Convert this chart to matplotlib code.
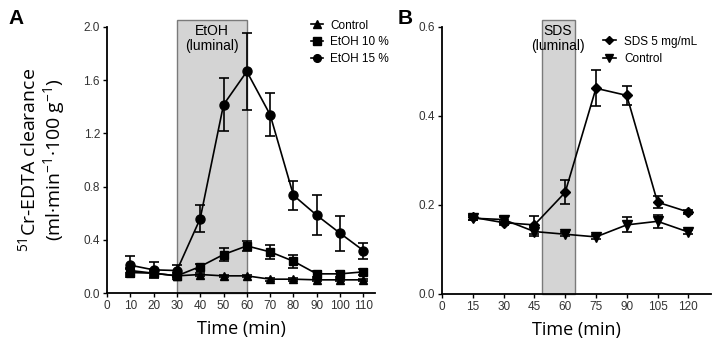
import matplotlib.pyplot as plt
import numpy as np

plt.rcParams["font.family"] = ["Liberation Sans", "DejaVu Sans"]
plt.rcParams["mathtext.fontset"] = "custom"
plt.rcParams["mathtext.rm"] = "Open Sans"
plt.rcParams["mathtext.it"] = "Open Sans:italic"

# Panel A data
time_a = [10, 20, 30, 40, 50, 60, 70, 80, 90, 100, 110]
control_a = [0.17, 0.15, 0.13, 0.14, 0.13, 0.13, 0.105, 0.105, 0.10, 0.10, 0.10]
control_a_err = [0.02, 0.015, 0.01, 0.01, 0.01, 0.01, 0.01, 0.01, 0.01, 0.01, 0.01]
etoh10 = [0.155, 0.15, 0.13, 0.20, 0.29, 0.355, 0.31, 0.24, 0.145, 0.145, 0.16]
etoh10_err = [0.03, 0.03, 0.02, 0.02, 0.05, 0.04, 0.05, 0.05, 0.02, 0.02, 0.02]
etoh15 = [0.21, 0.175, 0.17, 0.56, 1.415, 1.665, 1.34, 0.735, 0.585, 0.45, 0.32]
etoh15_err = [0.07, 0.06, 0.045, 0.10, 0.20, 0.29, 0.16, 0.11, 0.15, 0.13, 0.06]

# Panel B data
time_b = [15, 30, 45, 60, 75, 90, 105, 120]
sds = [0.172, 0.160, 0.155, 0.228, 0.462, 0.446, 0.206, 0.184]
sds_err = [0.005, 0.005, 0.02, 0.027, 0.04, 0.022, 0.014, 0.004]
control_b = [0.170, 0.167, 0.140, 0.134, 0.128, 0.155, 0.163, 0.139]
control_b_err = [0.005, 0.006, 0.01, 0.004, 0.004, 0.017, 0.015, 0.004]

label_font = ["Open Sans", "DejaVu Sans"]

fig = plt.figure(figsize=(7.13, 3.49), dpi=100)
ax_a = fig.add_axes([0.150, 0.160, 0.376, 0.763])
ax_b = fig.add_axes([0.620, 0.158, 0.377, 0.765])

err_kw = dict(color="black", linewidth=1.2, capsize=3.5, elinewidth=1.2, capthick=1.2)

# Panel A
ax_a.add_patch(plt.Rectangle((30, 0), 30, 2.05, facecolor="#d4d4d4", edgecolor="#7a7a7a",
                             linewidth=1.0, clip_on=False, zorder=0))
ax_a.text(45, 2.02, "EtOH\n(luminal)", ha="center", va="top", fontsize=10, linespacing=1.1)
c1 = ax_a.errorbar(time_a, control_a, yerr=control_a_err, marker="^", markersize=6, **err_kw)
c2 = ax_a.errorbar(time_a, etoh10, yerr=etoh10_err, marker="s", markersize=6, **err_kw)
c3 = ax_a.errorbar(time_a, etoh15, yerr=etoh15_err, marker="o", markersize=6.5, **err_kw)
ax_a.set_xlim(0, 115)
ax_a.set_ylim(0, 2.0)
ax_a.set_xticks(np.arange(0, 111, 10))
ax_a.set_yticks([0.0, 0.4, 0.8, 1.2, 1.6, 2.0])
ax_a.set_yticklabels(["0.0", "0.4", "0.8", "1.2", "1.6", "2.0"])
ax_a.set_xlabel("Time (min)", fontsize=13, family=label_font, labelpad=6)
ax_a.set_ylabel("$^{51}$Cr-EDTA clearance\n(ml·min$^{-1}$·100 g$^{-1}$)", fontsize=14,
                family=label_font, labelpad=12, linespacing=1.1)
ax_a.legend([c1[0], c2[0], c3[0]], ["Control", "EtOH 10 %", "EtOH 15 %"],
            loc="upper left", bbox_to_anchor=(0.745, 1.045), frameon=False, fontsize=8.5,
            handlelength=1.0, handletextpad=0.6, labelspacing=0.4, borderaxespad=0,
            markerscale=0.85)

# Panel B
ax_b.add_patch(plt.Rectangle((48.5, 0), 16.5, 0.615, facecolor="#d4d4d4", edgecolor="#7a7a7a",
                             linewidth=1.0, clip_on=False, zorder=0))
ax_b.text(56.5, 0.607, "SDS\n(luminal)", ha="center", va="top", fontsize=10, linespacing=1.1)
d1 = ax_b.errorbar(time_b, sds, yerr=sds_err, marker="D", markersize=5, **err_kw)
d2 = ax_b.errorbar(time_b, control_b, yerr=control_b_err, marker="v", markersize=6.5, **err_kw)
ax_b.set_xlim(0, 131)
ax_b.set_ylim(0, 0.6)
ax_b.set_xticks([0, 15, 30, 45, 60, 75, 90, 105, 120])
ax_b.set_yticks([0.0, 0.2, 0.4, 0.6])
ax_b.set_yticklabels(["0.0", "0.2", "0.4", "0.6"])
ax_b.set_xlabel("Time (min)", fontsize=13, family=label_font, labelpad=6)
ax_b.legend([d1[0], d2[0]], ["SDS 5 mg/mL", "Control"],
            loc="upper left", bbox_to_anchor=(0.58, 0.985), frameon=False, fontsize=8.5,
            handlelength=1.1, handletextpad=0.7, labelspacing=0.45, borderaxespad=0,
            markerscale=0.9)

for ax in (ax_a, ax_b):
    ax.spines["top"].set_visible(False)
    ax.spines["right"].set_visible(False)
    ax.spines["left"].set_linewidth(1.3)
    ax.spines["bottom"].set_linewidth(1.3)
    ax.tick_params(direction="out", length=3, width=1.0, labelsize=8.5, labelcolor="#333333", pad=2)

fig.text(0.012, 0.975, "A", fontsize=15, fontweight="bold", va="top")
fig.text(0.558, 0.975, "B", fontsize=15, fontweight="bold", va="top")

fig.savefig("out.png", dpi=100)
